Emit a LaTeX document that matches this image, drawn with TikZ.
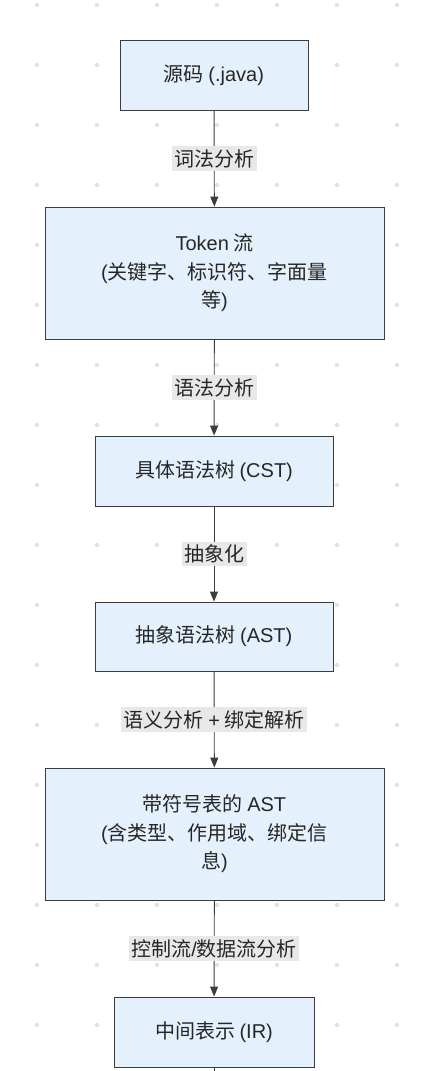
\documentclass[tikz,border=0pt]{standalone}
\usepackage{fontspec}
\setmainfont{Noto Sans CJK SC}
\newfontfamily\lat{Liberation Sans}
\usetikzlibrary{arrows.meta}
\definecolor{boxfill}{RGB}{228,241,253}
\definecolor{boxline}{RGB}{60,60,60}
\definecolor{lblbg}{RGB}{232,232,232}
\definecolor{dotc}{RGB}{226,226,226}
\tikzset{
  stepbox/.style={draw=boxline, fill=boxfill, line width=0.9pt, font=\fontsize{20}{28.5}\selectfont, text=black!85, align=center, inner sep=0pt},
  flow/.style={draw=boxline, line width=0.9pt, -{Triangle[length=10pt,width=8pt]}},
  lbl/.style={fill=lblbg, font=\fontsize{20}{24}\selectfont, text=black!85, inner xsep=2.5pt, inner ysep=3pt}
}
\begin{document}
\begin{tikzpicture}[x=1pt,y=-1pt]
\useasboundingbox (0,0) rectangle (438,1071);
\fill[white] (0,0) rectangle (438,1071);
\foreach \i in {0,...,7} \foreach \j in {0,...,17} \fill[dotc] (37+60*\i,5+60*\j) circle (2.2);
\node[stepbox, minimum width=188pt, minimum height=70pt] (n1) at (214,75) {源码 {\lat (.java)}};
\node[stepbox, minimum width=339pt, minimum height=132pt] (n2) at (214.5,273) {{\lat Token} 流\\{\lat (}关键字、标识符、字面量\\等{\lat )}};
\node[stepbox, minimum width=238pt, minimum height=70pt] (n3) at (214,471) {具体语法树 {\lat (CST)}};
\node[stepbox, minimum width=238pt, minimum height=69pt] (n4) at (214,636.5) {抽象语法树 {\lat (AST)}};
\node[stepbox, minimum width=339pt, minimum height=132pt] (n5) at (214.5,834) {带符号表的 {\lat AST}\\{\lat (}含类型、作用域、绑定信\\息{\lat )}};
\node[stepbox, minimum width=200pt, minimum height=70pt] (n6) at (214,1032) {中间表示 {\lat (IR)}};
\coordinate (end) at (214,1075);
\draw[flow] (n1) -- node[lbl] {词法分析} (n2);
\draw[flow] (n2) -- node[lbl] {语法分析} (n3);
\draw[flow] (n3) -- node[lbl] {抽象化} (n4);
\draw[flow] (n4) -- node[lbl] {语义分析 {\lat +} 绑定解析} (n5);
\draw[flow] (n5) -- node[lbl] {控制流{\lat /}数据流分析} (n6);
\draw[draw=boxline, line width=0.9pt] (n6.south) -- (end);
\end{tikzpicture}
\end{document}
